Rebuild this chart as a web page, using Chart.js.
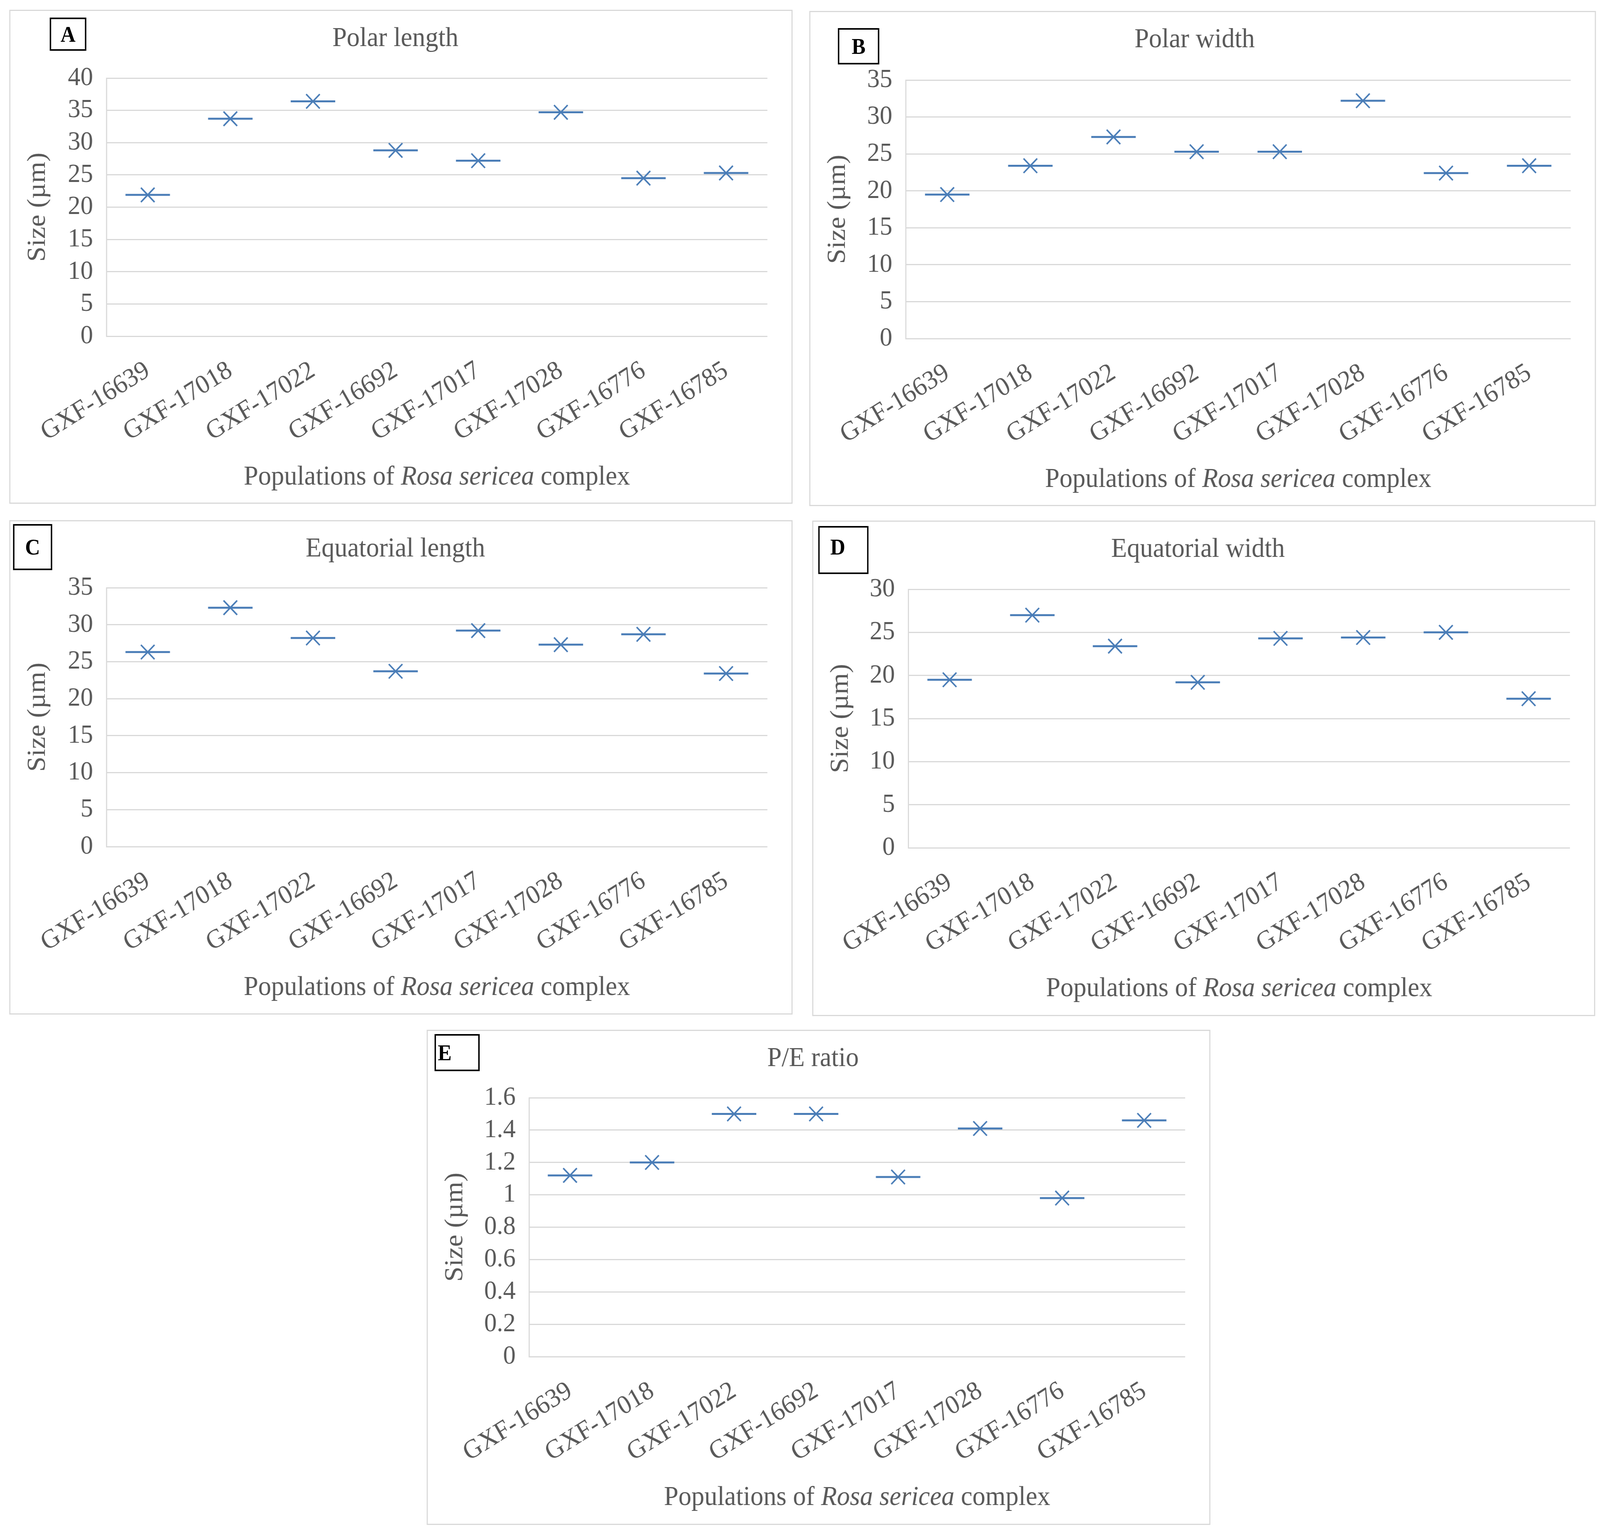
<!DOCTYPE html>
<html>
<head>
<meta charset="utf-8">
<script src="https://cdn.jsdelivr.net/npm/chart.js@4.4.1/dist/chart.umd.min.js"></script>
<style>
  html, body { margin: 0; padding: 0; background: #fff; overflow: hidden; }
  body { font-family: 'Liberation Serif', 'Times New Roman', serif; }
  #stage { position: absolute; left: 0; top: 0; width: 4316px; height: 3941px; transform-origin: 0 0; background: #fff; }
  .panel { position: absolute; box-sizing: border-box; border: 3px solid #D9D9D9; background: #fff; }
  .panel canvas { position: absolute; left: 0; top: 0; }
  .tag { position: absolute; box-sizing: border-box; border: 4px solid #000; background: #fff; font-weight: bold; font-size: 56px; color: #000; display: flex; align-items: center; justify-content: center; }
</style>
</head>
<body>
<div id="stage">
  <div class="panel" style="left:25px;top:25px;width:2113px;height:1265px">
    <canvas id="chartA"></canvas>
    <div class="tag" style="left:106px;top:17px;width:99px;height:85px">A</div>
  </div>
  <div class="panel" style="left:2183px;top:28px;width:2122px;height:1268px">
    <canvas id="chartB"></canvas>
    <div class="tag" style="left:74px;top:41px;width:112px;height:93px">B</div>
  </div>
  <div class="panel" style="left:25px;top:1332px;width:2113px;height:1266px">
    <canvas id="chartC"></canvas>
    <div class="tag" style="left:7px;top:7px;width:106px;height:118px">C</div>
  </div>
  <div class="panel" style="left:2191px;top:1333px;width:2112px;height:1269px">
    <canvas id="chartD"></canvas>
    <div class="tag" style="left:13px;top:11px;width:136px;height:123px;padding-right:30px;padding-bottom:16px">D</div>
  </div>
  <div class="panel" style="left:1151px;top:2637px;width:2114px;height:1268px">
    <canvas id="chartE"></canvas>
    <div class="tag" style="left:18px;top:8px;width:122px;height:95px;justify-content:flex-start;padding-left:5px">E</div>
  </div>
</div>

<script>
// populations on the x axis (same order in every panel)
const populations = ['GXF-16639', 'GXF-17018', 'GXF-17022', 'GXF-16692', 'GXF-17017', 'GXF-17028', 'GXF-16776', 'GXF-16785'];

// mean sizes
const polarLength      = [21.9, 33.7, 36.4, 28.8, 27.2, 34.7, 24.5, 25.3];
const polarWidth       = [19.5, 23.4, 27.3, 25.3, 25.3, 32.2, 22.4, 23.4];
const equatorialLength = [26.3, 32.3, 28.2, 23.7, 29.2, 27.3, 28.7, 23.4];
const equatorialWidth  = [19.5, 27.0, 23.4, 19.2, 24.3, 24.4, 25.0, 17.3];
const peRatio          = [1.12, 1.20, 1.50, 1.50, 1.11, 1.41, 0.98, 1.46];

const SERIF = "'Liberation Serif', 'Times New Roman', serif";
const TEXT = '#595959';
const GRID = '#D9D9D9';
const BLUE = '#4A7DB7';

// the figure is laid out at 4316x3941; fit it to whatever the viewport really is
const stage = document.getElementById('stage');
const sx = window.innerWidth / 4316, sy = window.innerHeight / 3941;
stage.style.transform = 'scale(' + sx + ',' + sy + ')';

// x axis title with the italic species name
const xTitlePlugin = {
  id: 'xTitle',
  afterDraw(chart) {
    const {ctx, chartArea} = chart;
    const parts = [['Populations of ', false], ['Rosa sericea', true], [' complex', false]];
    ctx.save();
    ctx.fillStyle = TEXT;
    ctx.textBaseline = 'middle';
    ctx.textAlign = 'left';
    let total = 0;
    const widths = parts.map(([t, it]) => {
      ctx.font = (it ? 'italic ' : '') + '70px ' + SERIF;
      const w = ctx.measureText(t).width;
      total += w;
      return w;
    });
    let x = (chartArea.left + chartArea.right) / 2 - total / 2;
    const y = chartArea.bottom + 362;
    parts.forEach(([t, it], i) => {
      ctx.font = (it ? 'italic ' : '') + '70px ' + SERIF;
      ctx.fillText(t, x, y);
      x += widths[i];
    });
    ctx.restore();
  }
};

function makeChart(id, title, values, max, step, box) {
  const canvas = document.getElementById(id);
  canvas.width = box.w;
  canvas.height = box.h;
  return new Chart(canvas, {
    type: 'line',
    data: {
      labels: populations,
      datasets: [
        { data: values, showLine: false, clip: false, pointStyle: 'line', pointRadius: 60,
          pointBorderWidth: 5, pointBorderColor: BLUE, pointBackgroundColor: BLUE },
        { data: values, showLine: false, clip: false, pointStyle: 'crossRot', pointRadius: 26,
          pointBorderWidth: 4, pointBorderColor: BLUE, pointBackgroundColor: BLUE }
      ]
    },
    options: {
      responsive: false,
      animation: false,
      devicePixelRatio: 1,
      events: [],
      layout: { padding: { left: 0, right: box.right, top: 0, bottom: 0 } },
      plugins: {
        legend: { display: false },
        tooltip: { enabled: false },
        title: {
          display: true, text: title, color: TEXT,
          font: { family: SERIF, size: 70, weight: 'normal' },
          padding: { top: 30, bottom: box.top - 30 - 84 }
        }
      },
      scales: {
        x: {
          offset: true,
          grid: { display: false, drawTicks: false },
          border: { display: false },
          ticks: { color: TEXT, font: { family: SERIF, size: 68 }, minRotation: 31, maxRotation: 31, autoSkip: false, padding: 48 },
          afterFit(s) { s.height = box.bottom; }
        },
        y: {
          min: 0, max: max,
          grid: { color: GRID, lineWidth: 3, drawTicks: false },
          border: { display: true, color: GRID, width: 3 },
          ticks: { stepSize: step, autoSkip: false, color: TEXT, font: { family: SERIF, size: 68, lineHeight: 1 }, padding: 36,
                   callback: v => String(Number(v.toFixed(1))) },
          title: { display: true, text: 'Size (µm)', color: TEXT, font: { family: SERIF, size: 70 }, padding: { top: 33, bottom: 0 } },
          afterFit(s) { s.width = box.left; }
        }
      }
    },
    plugins: [xTitlePlugin]
  });
}

makeChart('chartA', 'Polar length',      polarLength,      40,  5,   { w: 2107, h: 1259, left: 259, top: 172, bottom: 426, right: 30 });
makeChart('chartB', 'Polar width',       polarWidth,       35,  5,   { w: 2116, h: 1262, left: 257, top: 174, bottom: 426, right: 43 });
makeChart('chartC', 'Equatorial length', equatorialLength, 35,  5,   { w: 2107, h: 1260, left: 259, top: 170, bottom: 427, right: 30 });
makeChart('chartD', 'Equatorial width',  equatorialWidth,  30,  5,   { w: 2106, h: 1263, left: 256, top: 173, bottom: 428, right: 31 });
makeChart('chartE', 'P/E ratio',         peRatio,          1.6, 0.2, { w: 2108, h: 1262, left: 273, top: 171, bottom: 428, right: 30 });
</script>
</body>
</html>
